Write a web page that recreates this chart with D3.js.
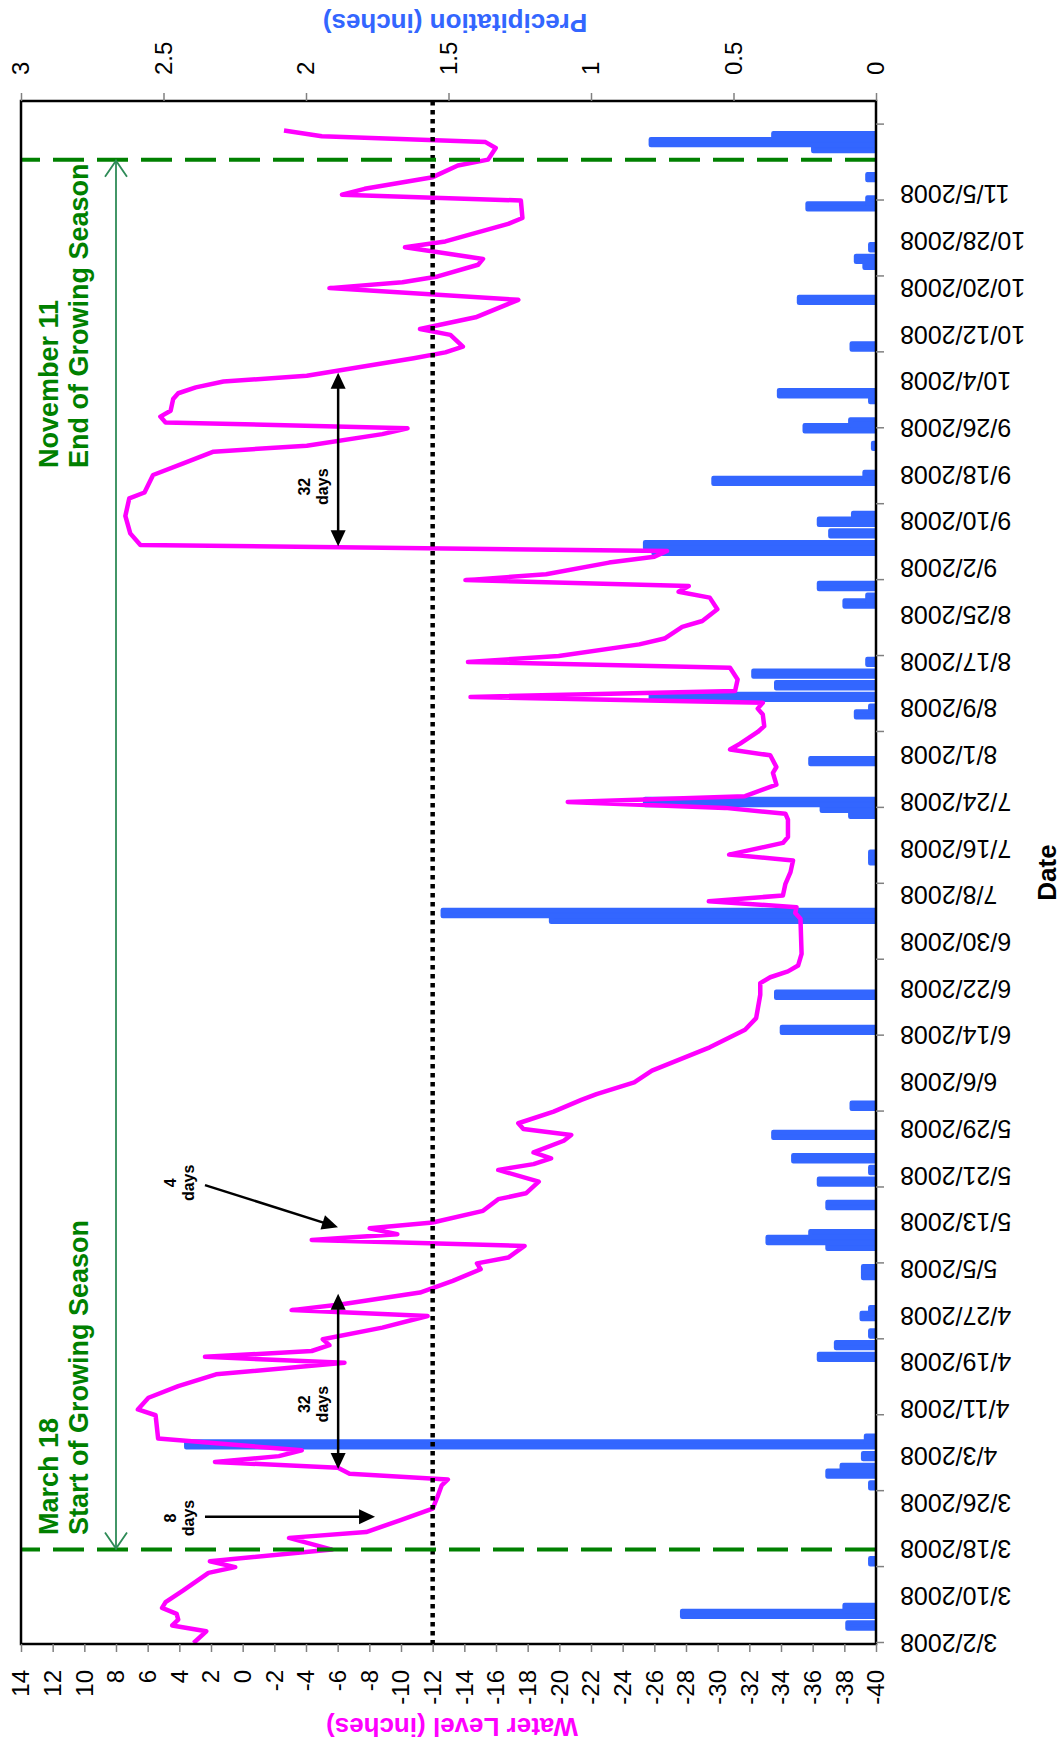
<!DOCTYPE html>
<html><head><meta charset="utf-8">
<script src="https://cdn.jsdelivr.net/npm/d3@7"></script>
<style>body{margin:0;background:#fff}svg{display:block}</style>
</head><body>
<svg id="chart" width="1064" height="1747"></svg>
<script>
// ---------------- DATA ----------------
const YEAR = 2008;
// Water level (inches), [month/day, value]
const waterLevel = [
 ["3/2",3.1],["3/4",2.3],["3/5",4.45],["3/6",4.07],["3/7",4.17],["3/8",5.09],["3/9",4.87],["3/11",3.75],["3/14",2.16],["3/15",0.47],
 ["3/16",2.07],["3/18",-5.64],["3/20",-2.93],["3/21",-7.8],["3/23",-9.93],["3/25",-12.0],["3/27",-12.3],["3/29",-12.57],["3/30",-12.96],["3/31",-6.75],
 ["4/1",-6.02],["4/2",1.75],["4/3",-2.29],["4/4",-3.73],["4/6",5.34],["4/10",5.5],["4/11",6.62],["4/13",5.95],["4/15",4.07],["4/17",1.68],
 ["4/19",-6.43],["4/20",2.38],["4/21",-4.36],["4/22",-5.48],["4/23",-5.06],["4/25",-8.82],["4/27",-11.68],["4/28",-3.09],["4/29",-6.27],["5/1",-11.2],
 ["5/3",-13.27],["5/5",-15.03],["5/6",-14.8],["5/7",-16.77],["5/9",-17.8],["5/10",-4.36],["5/11",-9.77],["5/12",-8.02],["5/13",-12.0],["5/15",-15.18],
 ["5/17",-16.14],["5/18",-17.89],["5/20",-18.7],["5/22",-16.14],["5/23",-18.37],["5/24",-19.48],["5/25",-18.37],["5/27",-20.28],["5/28",-20.75],["5/29",-17.73],
 ["5/30",-17.41],["6/1",-19.64],["6/3",-21.39],["6/4",-22.35],["6/6",-24.73],["6/8",-25.85],["6/12",-29.5],["6/15",-31.73],["6/17",-32.43],["6/21",-32.69],
 ["6/23",-32.69],["6/24",-33.32],["6/25",-34.44],["6/26",-35.08],["6/28",-35.3],["7/4",-35.23],["7/5",-34.9],["7/6",-34.98],["7/7",-29.44],["7/8",-34.12],
 ["7/10",-34.28],["7/12",-34.6],["7/14",-34.76],["7/15",-30.72],["7/17",-34.12],["7/18",-34.44],["7/21",-34.44],["7/22",-34.28],["7/23",-30.46],["7/24",-20.53],
 ["7/25",-31.73],["7/27",-33.71],["7/29",-33.49],["7/30",-33.71],["8/1",-33.32],["8/2",-30.78],["8/3",-31.42],["8/5",-32.53],["8/6",-32.94],["8/8",-32.85],
 ["8/9",-32.53],["8/10",-32.85],["8/11",-14.39],["8/12",-31.1],["8/14",-31.26],["8/16",-30.78],["8/17",-14.23],["8/18",-19.96],["8/20",-25.05],["8/21",-26.64],
 ["8/23",-27.76],["8/24",-29.03],["8/26",-29.98],["8/28",-29.5],["8/29",-27.53],["8/30",-28.17],["8/31",-14.07],["9/1",-19.16],["9/3",-23.14],["9/4",-26.0],
 ["9/5",-26.8],["9/6",6.46],["9/8",7.1],["9/11",7.41],["9/14",7.16],["9/15",6.2],["9/18",5.66],["9/20",3.75],["9/22",1.84],["9/23",-4.05],
 ["9/25",-8.82],["9/26",-10.41],["9/27",4.87],["9/28",5.2],["9/29",4.55],["10/1",4.39],["10/2",4.07],["10/3",2.96],["10/4",1.21],["10/5",-4.05],
 ["10/8",-10.8],["10/9",-12.8],["10/10",-13.91],["10/12",-13.12],["10/13",-11.2],["10/15",-14.71],["10/18",-17.41],["10/20",-5.48],["10/21",-10.09],["10/22",-12.32],
 ["10/24",-14.87],["10/25",-15.18],["10/27",-10.25],["10/28",-12.8],["10/31",-16.77],["11/1",-17.67],["11/4",-17.57],["11/5",-6.27],["11/6",-7.7],["11/8",-12.0],
 ["11/10",-13.59],["11/11",-15.5],["11/13",-15.98],["11/14",-15.34],["11/15",-5.0],["11/16",-2.61]
];
// Daily precipitation (inches)
const precipDates = ["3/5","3/7","3/8","3/16","3/29","3/31","4/1","4/3","4/5","4/6",
 "4/20","4/22","4/24","4/27","4/28","5/4","5/5","5/9","5/10","5/11",
 "5/16","5/20","5/22","5/24","5/28","6/2","6/15","6/21","7/4","7/5",
 "7/14","7/15","7/22","7/23","7/24","7/31","8/8","8/9","8/11","8/13",
 "8/15","8/17","8/27","8/28","8/30","9/5","9/6","9/8","9/10","9/11",
 "9/17","9/18","9/23","9/26","9/27","10/1","10/2","10/10","10/18","10/24",
 "10/25","10/27","11/3","11/4","11/8","11/13","11/14","11/15"];
const precipValues = [0.10,0.68,0.11,0.02,0.02,0.17,0.12,0.045,2.42,0.035,
 0.20,0.14,0.02,0.05,0.02,0.045,0.045,0.17,0.38,0.23,
 0.17,0.20,0.02,0.29,0.36,0.085,0.33,0.35,1.14,1.52,
 0.02,0.02,0.09,0.19,0.81,0.23,0.07,0.02,0.79,0.35,
 0.43,0.03,0.11,0.03,0.20,0.78,0.81,0.16,0.20,0.08,
 0.57,0.04,0.01,0.25,0.09,0.02,0.34,0.085,0.27,0.04,
 0.07,0.02,0.24,0.03,0.03,0.22,0.79,0.36];
// Axis ticks and labels
const dateLabels = ["3/2/2008","3/10/2008","3/18/2008","3/26/2008","4/3/2008","4/11/2008","4/19/2008","4/27/2008",
 "5/5/2008","5/13/2008","5/21/2008","5/29/2008","6/6/2008","6/14/2008","6/22/2008","6/30/2008",
 "7/8/2008","7/16/2008","7/24/2008","8/1/2008","8/9/2008","8/17/2008","8/25/2008","9/2/2008",
 "9/10/2008","9/18/2008","9/26/2008","10/4/2008","10/12/2008","10/20/2008","10/28/2008","11/5/2008"];
const dateTickMarks = ["3/2","3/15","3/28","4/10","4/23","5/6","5/19","6/1","6/14","6/27","7/10","7/23",
 "8/5","8/18","8/31","9/13","9/26","10/9","10/22","11/4","11/17"];
const levelTicks = [14,12,10,8,6,4,2,0,-2,-4,-6,-8,-10,-12,-14,-16,-18,-20,-22,-24,-26,-28,-30,-32,-34,-36,-38,-40];
const precipTicks = [0,0.5,1,1.5,2,2.5,3];
const precipTickLabels = ["0","0.5","1","1.5","2","2.5","3"];
const axisStart = "3/2", axisEnd = "11/21";
const thresholdLevel = -12;
const seasonStart = "3/18", seasonEnd = "11/11";

// ---------------- SETUP ----------------
const FONT = "Arial, 'Liberation Sans', Helvetica, sans-serif";
const parseMD = s => { const p = s.split("/").map(Number); return new Date(Date.UTC(p[2] || YEAR, p[0]-1, p[1])); };
const DAY = 864e5;
const t0 = parseMD(axisStart);
const dayToDate = n => new Date(t0.getTime() + n*DAY);

const svg = d3.select("#chart");
// The chart is built in landscape coordinates and turned a quarter turn counter-clockwise.
const g = svg.append("g").attr("transform","translate(0,1747) rotate(-90)");

const L = 103, R = 1646, T = 21, B = 876;
const x = d3.scaleUtc().domain([parseMD(axisStart), parseMD(axisEnd)]).range([104, 104 + 264*5.84]);
const yW = d3.scaleLinear().domain([-40,14]).range([B,T]);
const yP = d3.scaleLinear().domain([0,3]).range([B,T]);
const dw = x(dayToDate(1)) - x(dayToDate(0));

g.append("defs").append("clipPath").attr("id","plotclip")
  .append("rect").attr("x",L).attr("y",T).attr("width",R-L).attr("height",B-T);

const plot = g.append("g").attr("clip-path","url(#plotclip)");

// precipitation bars
const precip = precipDates.map((d,i)=>({date:parseMD(d), v:precipValues[i]}));
plot.append("g").selectAll("rect").data(precip).join("rect")
  .attr("x", d=>x(d.date)-dw/2).attr("width", dw)
  .attr("y", d=>yP(d.v)).attr("height", d=>B - yP(d.v) + 6)
  .attr("fill","#3366FF").attr("stroke","#3366FF").attr("stroke-width",4.5).attr("stroke-linejoin","round");

// water level line
const wl = waterLevel.map(d=>({date:parseMD(d[0]), v:d[1]}));
plot.append("path").datum(wl)
  .attr("d", d3.line().x(d=>x(d.date)).y(d=>yW(d.v)))
  .attr("fill","none").attr("stroke","#FF00FF").attr("stroke-width",4.5).attr("stroke-linejoin","round");

// threshold dotted line
plot.append("line").attr("x1",R).attr("x2",L).attr("y1",yW(thresholdLevel)).attr("y2",yW(thresholdLevel))
  .attr("stroke","#000").attr("stroke-width",4.5).attr("stroke-dasharray","4.5,4.5");

// growing season dashed lines
[seasonStart, seasonEnd].forEach(s=>{
  plot.append("line").attr("x1",x(parseMD(s))).attr("x2",x(parseMD(s))).attr("y1",B).attr("y2",T)
    .attr("stroke","#008000").attr("stroke-width",4).attr("stroke-dasharray","31,13");
});

// plot border
g.append("rect").attr("x",L).attr("y",T).attr("width",R-L).attr("height",B-T)
  .attr("fill","none").attr("stroke","#000").attr("stroke-width",2.5);

// ---------------- AXES ----------------
function styleAxis(a){
  a.attr("font-family",FONT).attr("font-size",24);
  a.select(".domain").remove();
  a.selectAll(".tick line").attr("stroke","#808080").attr("stroke-width",1.5);
  a.selectAll(".tick text").attr("fill","#000");
}
const axL = g.append("g").attr("transform",`translate(${L},0)`)
  .call(d3.axisLeft(yW).tickValues(levelTicks).tickSize(8).tickPadding(18).tickFormat(d=>String(d)));
styleAxis(axL);
const axR = g.append("g").attr("transform",`translate(${R},0)`)
  .call(d3.axisRight(yP).tickValues(precipTicks).tickSize(8).tickPadding(18).tickFormat((d,i)=>precipTickLabels[i]));
styleAxis(axR);
const axBt = g.append("g").attr("transform",`translate(0,${B})`)
  .call(d3.axisBottom(x).tickValues(dateTickMarks.map(parseMD)).tickSize(8).tickFormat(""));
styleAxis(axBt);
const axB = g.append("g").attr("transform",`translate(0,${B})`)
  .call(d3.axisBottom(x).tickValues(dateLabels.map(parseMD)).tickSize(0).tickFormat((d,i)=>dateLabels[i]));
styleAxis(axB);
axB.attr("font-size",25);
axB.selectAll(".tick text").attr("transform","rotate(-90)").attr("text-anchor","end")
  .attr("x",-24).attr("y",0).attr("dy","0.35em");

// axis titles
g.append("text").attr("transform",`translate(20,452) rotate(-90)`).attr("text-anchor","middle")
  .attr("dominant-baseline","central").attr("font-family",FONT).attr("font-weight","bold").attr("font-size",26)
  .attr("fill","#FF00FF").text("Water Level (inches)");
g.append("text").attr("transform",`translate(1724,455) rotate(-90)`).attr("text-anchor","middle")
  .attr("dominant-baseline","central").attr("font-family",FONT).attr("font-weight","bold").attr("font-size",26)
  .attr("fill","#3366FF").text("Precipitation (inches)");
g.append("text").attr("x",(L+R)/2).attr("y",1056).attr("text-anchor","middle")
  .attr("font-family",FONT).attr("font-weight","bold").attr("font-size",26).attr("fill","#000").text("Date");

// ---------------- ANNOTATIONS ----------------
// growing season span arrow (open heads)
const gsY = yW(8), gx1 = x(parseMD(seasonStart)), gx2 = x(parseMD(seasonEnd));
g.append("line").attr("x1",gx1).attr("x2",gx2).attr("y1",gsY).attr("y2",gsY)
  .attr("stroke","#2E8B57").attr("stroke-width",1.8);
g.append("polyline").attr("points",`${gx1+17},${gsY-11} ${gx1+1},${gsY} ${gx1+17},${gsY+11}`)
  .attr("fill","none").attr("stroke","#2E8B57").attr("stroke-width",1.8);
g.append("polyline").attr("points",`${gx2-17},${gsY-11} ${gx2-1},${gsY} ${gx2-17},${gsY+11}`)
  .attr("fill","none").attr("stroke","#2E8B57").attr("stroke-width",1.8);

const seasonNotes = [
  {day:18.5, lines:["March 18","Start of Growing Season"]},
  {day:201.2, lines:["November 11","End of Growing Season"]}
];
seasonNotes.forEach(n=>{
  const t = g.append("text").attr("font-family",FONT).attr("font-weight","bold").attr("font-size",27).attr("fill","#008000");
  n.lines.forEach((s,i)=>t.append("tspan").attr("x",x(dayToDate(n.day))).attr("y", yW(i===0?11.66:9.77)).text(s));
});

function head(tx,ty,ang){
  const hl=16, hw=7.5, c=Math.cos(ang), s=Math.sin(ang);
  const bx=tx-hl*c, by=ty-hl*s;
  g.append("polygon").attr("points",`${tx},${ty} ${bx-hw*s},${by+hw*c} ${bx+hw*s},${by-hw*c}`).attr("fill","#000");
}
function arrow(d1,v1,d2,v2,both){
  const x1=x(dayToDate(d1)), y1=yW(v1), x2=x(dayToDate(d2)), y2=yW(v2);
  const ang=Math.atan2(y2-y1,x2-x1), c=Math.cos(ang), s=Math.sin(ang);
  const sx = both ? x1+12*c : x1, sy = both ? y1+12*s : y1;
  g.append("line").attr("x1",sx).attr("y1",sy).attr("x2",x2-12*c).attr("y2",y2-12*s)
    .attr("stroke","#000").attr("stroke-width",2.5);
  head(x2,y2,ang);
  if(both) head(x1,y1,ang+Math.PI);
}
arrow(21.6, 2.38, 21.6, -8.36, false);
arrow(78.4, 2.38, 71.2, -6.02, false);
arrow(29.8, -6.03, 59.8, -6.03, true);
arrow(187.8, -6.03, 217.5, -6.03, true);

const dayNotes = [
  {day:21.4, top:"8", v1:4.2, v2:3.07},
  {day:78.8, top:"4", v1:4.2, v2:3.07},
  {day:40.9, top:"32", v1:-4.26, v2:-5.42},
  {day:198.0, top:"32", v1:-4.26, v2:-5.42}
];
dayNotes.forEach(n=>{
  const t = g.append("text").attr("font-family",FONT).attr("font-weight","bold").attr("font-size",16)
    .attr("fill","#000").attr("text-anchor","middle");
  t.append("tspan").attr("x",x(dayToDate(n.day))).attr("y",yW(n.v1)).text(n.top);
  t.append("tspan").attr("x",x(dayToDate(n.day))).attr("y",yW(n.v2)).text("days");
});
</script>
</body></html>
